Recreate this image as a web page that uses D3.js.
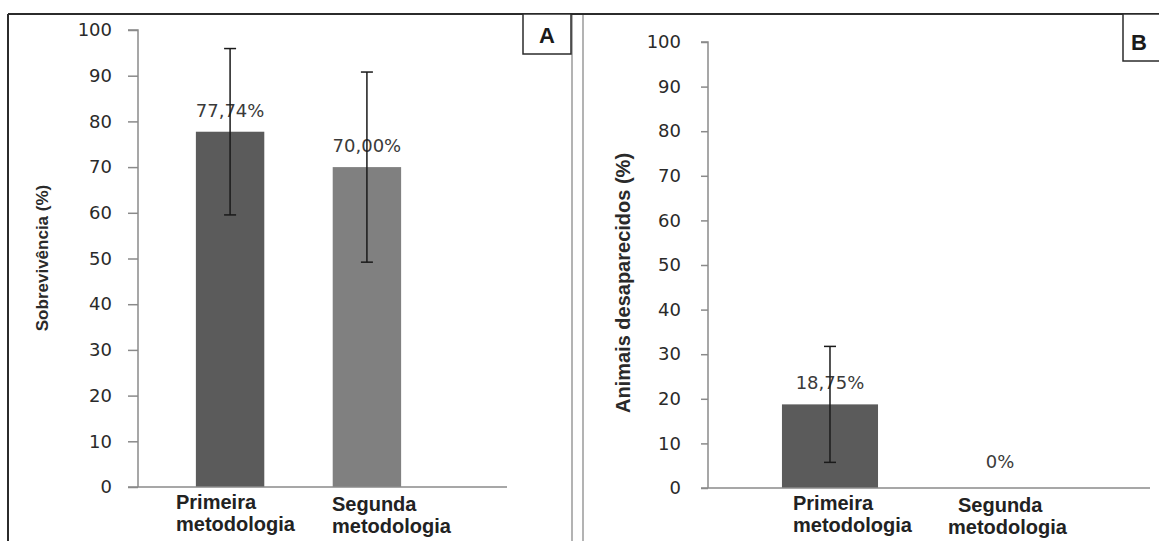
<!DOCTYPE html>
<html>
<head>
<meta charset="utf-8">
<script src="https://cdn.jsdelivr.net/npm/d3@7"></script>
<style>
  html, body { margin: 0; padding: 0; background: #fff; }
  svg { display: block; }
</style>
</head>
<body>
<div id="chart"></div>
<script>
// ── Data ──
const categories = ["Primeira metodologia", "Segunda metodologia"];
const catLines = [["Primeira", "metodologia"], ["Segunda", "metodologia"]];
const survival = [77.74, 70.0];
const survivalErr = [18.2, 20.8];
const survivalLabels = ["77,74%", "70,00%"];
const missing = [18.75, 0];
const missingErr = [13.0, 0];
const missingLabels = ["18,75%", "0%"];
const yTicks = [0, 10, 20, 30, 40, 50, 60, 70, 80, 90, 100];

const W = 1159, H = 541;
const svg = d3.select("#chart").append("svg").attr("width", W).attr("height", H);

// ── Frame ──
svg.append("line").attr("x1", 8).attr("x2", W).attr("y1", 14).attr("y2", 14)
  .attr("stroke", "#2b2b2b").attr("stroke-width", 2);
svg.append("line").attr("x1", 8).attr("x2", 8).attr("y1", 14).attr("y2", H)
  .attr("stroke", "#2b2b2b").attr("stroke-width", 2);
[572, 583].forEach(function (xx) {
  svg.append("line").attr("x1", xx).attr("x2", xx).attr("y1", 15).attr("y2", H)
    .attr("stroke", "#9a9a9a").attr("stroke-width", 1.5);
});

function panel(opt) {
  const y = d3.scaleLinear().domain([0, 100]).range([opt.y0, opt.y100]);
  const x = d3.scaleBand().domain(categories)
    .range([opt.axisX, opt.xEnd]).paddingInner(opt.padInner).paddingOuter(opt.padOuter);
  const g = svg.append("g");

  // y axis
  const yAxis = g.append("g")
    .attr("transform", `translate(${opt.axisX},0)`)
    .call(d3.axisLeft(y).tickValues(yTicks).tickSize(opt.tick).tickPadding(opt.tickPad));
  yAxis.select(".domain").attr("stroke", "#8a8a8a").attr("stroke-width", 1.5)
    .attr("d", `M${-opt.tick},${opt.y100}H0V${opt.y0}`);
  yAxis.selectAll(".tick line").attr("stroke", "#8a8a8a").attr("stroke-width", 1.5);
  yAxis.selectAll(".tick text").attr("fill", "#2a2a2a")
    .attr("font-family", "DejaVu Sans").attr("font-size", "18px");

  // bars
  g.selectAll("rect.bar").data(opt.values).enter().append("rect")
    .attr("x", (d, i) => x(categories[i]))
    .attr("width", x.bandwidth())
    .attr("y", d => y(d))
    .attr("height", d => y(0) - y(d))
    .attr("fill", (d, i) => opt.colors[i]);

  // x axis line
  g.append("line").attr("x1", opt.axisX - opt.tick).attr("x2", opt.xLineEnd)
    .attr("y1", y(0)).attr("y2", y(0))
    .attr("stroke", "#8a8a8a").attr("stroke-width", 1.5);

  // data labels
  g.selectAll("text.val").data(opt.labels).enter().append("text")
    .attr("x", (d, i) => x(categories[i]) + x.bandwidth() / 2)
    .attr("y", (d, i) => y(opt.values[i]) - (opt.values[i] === 0 ? 20 : 15))
    .attr("text-anchor", "middle")
    .attr("fill", "#3a3a3a").attr("font-family", "DejaVu Sans").attr("font-size", "18px")
    .text(d => d);

  // error bars
  opt.values.forEach(function (v, i) {
    const e = opt.errs[i];
    if (!e) return;
    const cx = x(categories[i]) + x.bandwidth() / 2;
    g.append("line").attr("x1", cx).attr("x2", cx)
      .attr("y1", y(v + e)).attr("y2", y(v - e))
      .attr("stroke", "#1a1a1a").attr("stroke-width", 1.5);
    [v + e, v - e].forEach(function (vv) {
      g.append("line").attr("x1", cx - 6).attr("x2", cx + 6)
        .attr("y1", y(vv)).attr("y2", y(vv))
        .attr("stroke", "#1a1a1a").attr("stroke-width", 1.5);
    });
  });

  // category labels
  catLines.forEach(function (lines, i) {
    const t = g.append("text")
      .attr("x", opt.catX[i]).attr("y", opt.catY[i])
      .attr("fill", "#222").attr("font-family", "Liberation Sans, Arial, sans-serif")
      .attr("font-weight", "bold").attr("font-size", "20px");
    lines.forEach(function (ln, j) {
      t.append("tspan").attr("x", opt.catX[i] + (opt.catDx && j ? opt.catDx[i] : 0))
        .attr("dy", j ? 22 : 0).text(ln);
    });
  });

  // y title
  g.append("text")
    .attr("transform", `translate(${opt.titleX},${opt.titleY}) rotate(-90)`)
    .attr("text-anchor", "middle")
    .attr("fill", "#2a2a2a").attr("font-family", "Liberation Sans, Arial, sans-serif")
    .attr("font-weight", "bold").attr("font-size", opt.titleSize)
    .text(opt.title);

  // panel letter box
  g.append("rect").attr("x", opt.box[0]).attr("y", 14)
    .attr("width", opt.box[2]).attr("height", opt.box[1] - 14)
    .attr("fill", "#fff").attr("stroke", "#2b2b2b").attr("stroke-width", 1.5);
  g.append("text").attr("x", opt.letterX).attr("y", opt.box[1] - 11)
    .attr("text-anchor", "middle")
    .attr("font-family", "Liberation Sans, Arial, sans-serif").attr("font-weight", "bold")
    .attr("font-size", "22px").attr("fill", "#1a1a1a").text(opt.letter);
}

panel({
  axisX: 138, xEnd: 459, padInner: 0.5, padOuter: 0.423, xLineEnd: 507,
  y0: 487, y100: 30, tick: 10, tickPad: 16,
  values: survival, errs: survivalErr, labels: survivalLabels,
  colors: ["#5b5b5b", "#808080"],
  catX: [176, 332], catY: [509, 511],
  title: "Sobrevivência (%)", titleX: 48, titleY: 258, titleSize: "17px",
  box: [523, 54, 48], letter: "A", letterX: 547
});

panel({
  axisX: 708, xEnd: 1122, padInner: 0.435, padOuter: 0.435, xLineEnd: 1150,
  y0: 488, y100: 42, tick: 7, tickPad: 20,
  values: missing, errs: missingErr, labels: missingLabels,
  colors: ["#5b5b5b", "#808080"],
  catX: [793, 958], catY: [510, 512], catDx: [0, -10],
  title: "Animais desaparecidos (%)", titleX: 630, titleY: 283, titleSize: "20px",
  box: [1123, 61, 60], letter: "B", letterX: 1139
});
</script>
</body>
</html>
